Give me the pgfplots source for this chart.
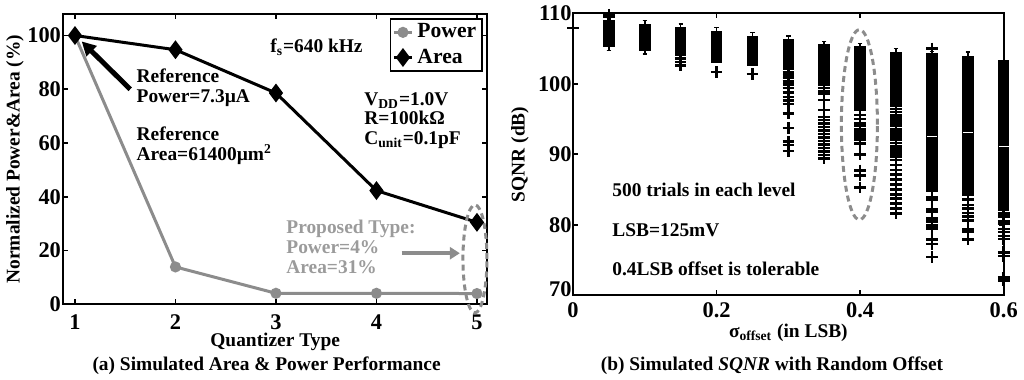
\documentclass[border=0pt]{standalone}
\usepackage{fontspec}
\setmainfont{Liberation Serif}
\usepackage{pgfplots}
\pgfplotsset{compat=1.18}
\usepgfplotslibrary{statistics}
\usetikzlibrary{arrows.meta}
\definecolor{pgray}{RGB}{140,140,140}
\definecolor{tgray}{RGB}{155,155,155}
\newcommand{\fs}[1]{\fontsize{#1}{1.02\dimexpr #1\relax}\selectfont\bfseries}
\begin{document}
\begin{tikzpicture}
\useasboundingbox (0,0) rectangle (512bp,190bp);
\pgfplotsset{
  common/.style={
    scale only axis, clip=false,
    axis line style={line width=1bp},
    every tick/.style={black, line width=0.8bp},
    major tick length=2.5bp,
    tick align=inside,
    /pgf/number format/assume math mode=true,
    tick label style={font=\fs{11.2bp}},
    yticklabel style={inner xsep=1bp},
  },
  bx/.style={black, fill=black, line width=0.75bp, mark=+, mark size=2.9bp, mark options={line width=1.25bp}},
  wmed/.style={boxplot/every median/.style={draw=white, line width=0.6bp}},
}
% ---------------- left panel ----------------
\begin{axis}[common,
  at={(31.65bp,37.85bp)}, anchor=south west,
  width=211.85bp, height=145.15bp,
  xmin=0.884, xmax=5.1, ymin=0, ymax=108,
  xtick={1,2,3,4,5}, ytick={0,20,40,60,80,100},
  xticklabel style={yshift=-1.6bp},
  xlabel={Quantizer Type},
  ylabel={Normalized Power\&Area (\%)},
  xlabel style={at={(axis description cs:0.5,-0.145)}, anchor=base, font=\fs{9.7bp}},
  ylabel style={at={(axis description cs:-0.114,0.5)}, anchor=center, rotate=0, font=\fs{9.7bp}},
  legend style={at={(axis description cs:1,1)}, anchor=north east, xshift=-2bp, yshift=-2bp,
    draw=black, line width=0.8bp, font=\fs{10.8bp}, inner xsep=1bp, inner ysep=0.5bp,
    cells={anchor=west}},
  legend image code/.code={\draw[mark repeat=2,mark phase=2] plot coordinates {(0bp,0bp) (4.5bp,0bp) (9bp,0bp)};},
]
\addplot[pgray, line width=1.5bp, mark=*, mark size=2bp] coordinates {
  (1,100) (2,13.9) (3,4.1) (4,4.1) (5,4.0)
};
\addlegendentry{Power}
\addplot[black, line width=1.5bp, mark=diamond*, mark size=3.5bp] coordinates {
  (1,100) (2,94.7) (3,78.6) (4,42.3) (5,30.5)
};
\addlegendentry{Area}
\node[anchor=west, font=\fs{9.7bp}, inner sep=0] at (axis cs:2.94,95.8) {f\textsubscript{s}=640 kHz};
\node[anchor=west, align=left, font=\fs{9.7bp}, inner sep=0] at (axis cs:1.61,80.5) {Reference\\Power=7.3µA};
\node[anchor=west, align=left, font=\fs{9.7bp}, inner sep=0] at (axis cs:1.61,58.9) {Reference\\Area=61400µm\textsuperscript{2}};
\node[anchor=west, align=left, font=\fs{9.7bp}, inner sep=0] at (axis cs:3.876,68.4) {V\textsubscript{DD}=1.0V\\R=100kΩ\\C\textsubscript{unit}=0.1pF};
\node[anchor=west, align=left, font=\fs{9.7bp}, inner sep=0, text=tgray] at (axis cs:3.10,21.3) {Proposed Type:\\Power=4\%\\Area=31\%};
\draw[line width=2.5bp, -{Triangle[length=7bp,width=7bp]}] (axis cs:1.55,80) -- (axis cs:1.067,97.8);
\draw[pgray, line width=2bp, -{Triangle[length=5bp,width=6bp]}] (axis cs:4.25,19) -- (axis cs:4.83,19);
\draw[pgray, line width=1.5bp, dash pattern=on 3bp off 2bp] (axis cs:4.98,16.9) ellipse [x radius=6bp, y radius=27bp];
\end{axis}
% ---------------- right panel ----------------
\begin{axis}[common,
  at={(286.5bp,42.35bp)}, anchor=south west,
  width=215.35bp, height=141bp,
  xmin=0, xmax=0.6, ymin=70, ymax=110,
  xtick={0,0.2,0.4,0.6}, ytick={80,90,100,110},
  extra y ticks={70}, extra y tick style={yticklabel style={yshift=3bp}},
  yticklabel style={inner xsep=0.5bp},
  xlabel={σ\textsubscript{offset} (in LSB)},
  ylabel={SQNR (dB)},
  xlabel style={at={(axis description cs:0.5,-0.149)}, anchor=base, font=\fs{9.7bp}},
  ylabel style={at={(axis description cs:-0.123,0.5)}, anchor=center, rotate=0, font=\fs{9.7bp}},
  boxplot/draw direction=y, boxplot/box extend=0.014, boxplot/whisker extend=0.006,
]
\addplot[only marks, mark=+, mark size=2.9bp, mark options={line width=1.25bp}] coordinates {(0,107.9)};
\addplot[bx, boxplot prepared={draw position=0.05, lower whisker=104.7, lower quartile=105.3, median=107, upper quartile=109.0, upper whisker=109.2}]
  table[row sep=\\, y index=0] {109.5\\ 109.8\\};
\addplot[bx, boxplot prepared={draw position=0.10, lower whisker=104.2, lower quartile=104.7, median=106.5, upper quartile=108.4, upper whisker=109.0}]
  coordinates {};
\addplot[bx, boxplot prepared={draw position=0.15, lower whisker=104.1, lower quartile=104.1, median=106, upper quartile=108.0, upper whisker=108.5}]
  table[row sep=\\, y index=0] {103.6\\ 103.1\\ 102.6\\};
\addplot[bx, boxplot prepared={draw position=0.20, lower whisker=103.0, lower quartile=103.0, median=105, upper quartile=107.4, upper whisker=108.0}]
  table[row sep=\\, y index=0] {101.7\\};
\addplot[bx, boxplot prepared={draw position=0.25, lower whisker=102.7, lower quartile=102.7, median=104.5, upper quartile=106.7, upper whisker=107.3}]
  table[row sep=\\, y index=0] {101.4\\};
\addplot[bx, boxplot prepared={draw position=0.30, lower whisker=102.0, lower quartile=102.0, median=104, upper quartile=106.3, upper whisker=106.8}]
  table[row sep=\\, y index=0] {101.6\\ 101.2\\ 100.8\\ 100.3\\ 99.9\\ 99.4\\ 98.8\\ 98.1\\ 97.6\\ 97.1\\ 95.8\\ 93.7\\ 91.8\\ 91.3\\ 90.5\\};
\addplot[bx, boxplot prepared={draw position=0.35, lower whisker=100.5, lower quartile=100.5, median=103, upper quartile=105.5, upper whisker=106.0}]
  table[row sep=\\, y index=0] {100.2\\ 99.8\\ 99.4\\ 99.0\\ 98.6\\ 97.7\\ 96.3\\ 95.3\\ 94.9\\ 94.4\\ 93.9\\ 93.4\\ 92.9\\ 92.4\\ 91.9\\ 91.4\\ 90.9\\ 90.4\\ 89.9\\ 89.4\\};
\addplot[bx, boxplot prepared={draw position=0.40, lower whisker=96.3, lower quartile=96.3, median=101, upper quartile=105.3, upper whisker=105.7}]
  table[row sep=\\, y index=0] {95.6\\ 95.0\\ 94.4\\ 94.0\\ 93.5\\ 93.2\\ 92.9\\ 92.6\\ 92.3\\ 92.0\\ 91.5\\ 90.0\\ 87.7\\ 87.0\\ 85.3\\};
\addplot[bx, boxplot prepared={draw position=0.45, lower whisker=96.8, lower quartile=96.8, median=101, upper quartile=104.4, upper whisker=105.0}]
  table[row sep=\\, y index=0] {96.4\\ 96.0\\ 95.6\\ 95.2\\ 94.8\\ 94.4\\ 94.0\\ 93.6\\ 93.2\\ 92.8\\ 92.4\\ 92.0\\ 91.6\\ 91.2\\ 90.8\\ 90.4\\ 90.0\\ 89.6\\ 89.2\\ 88.5\\ 87.8\\ 87.1\\ 86.4\\ 85.7\\ 85.0\\ 84.3\\ 83.7\\ 83.0\\ 82.3\\ 81.6\\};
\addplot[bx, wmed, boxplot prepared={draw position=0.50, lower whisker=84.7, lower quartile=84.7, median=92.5, upper quartile=104.3, upper whisker=104.6}]
  table[row sep=\\, y index=0] {105.0\\ 83.9\\ 83.6\\ 82.2\\ 81.8\\ 80.9\\ 80.5\\ 79.9\\ 79.5\\ 77.9\\ 77.3\\ 75.4\\};
\addplot[bx, wmed, boxplot prepared={draw position=0.55, lower whisker=84.2, lower quartile=84.2, median=93.1, upper quartile=103.9, upper whisker=104.5}]
  table[row sep=\\, y index=0] {83.6\\ 82.8\\ 82.3\\ 81.7\\ 81.2\\ 80.6\\ 79.3\\ 79.0\\ 77.9\\};
\addplot[bx, wmed, boxplot prepared={draw position=0.60, lower whisker=82.1, lower quartile=82.1, median=91.1, upper quartile=103.3, upper whisker=103.3}]
  table[row sep=\\, y index=0] {81.6\\ 81.2\\ 80.5\\ 80.1\\ 79.4\\ 79.0\\ 78.4\\ 78.0\\ 76.1\\ 75.6\\ 72.5\\ 72.1\\};
\node[anchor=west, font=\fs{9.7bp}, inner sep=0] at (axis cs:0.0543,84.9) {500 trials in each level};
\node[anchor=west, font=\fs{9.7bp}, inner sep=0] at (axis cs:0.0543,79.3) {LSB=125mV};
\node[anchor=west, font=\fs{9.7bp}, inner sep=0] at (axis cs:0.0543,73.8) {0.4LSB offset is tolerable};
\draw[pgray, line width=1.5bp, dash pattern=on 3bp off 2bp] (axis cs:0.399,94.2) ellipse [x radius=9bp, y radius=47.5bp];
\end{axis}
\node[anchor=base, font=\fs{9.7bp}, inner sep=0] at (133.3bp,5bp) {(a) Simulated Area \& Power Performance};
\node[anchor=base, font=\fs{9.7bp}, inner sep=0] at (386bp,5bp) {(b) Simulated \textit{SQNR} with Random Offset};
\end{tikzpicture}
\end{document}
